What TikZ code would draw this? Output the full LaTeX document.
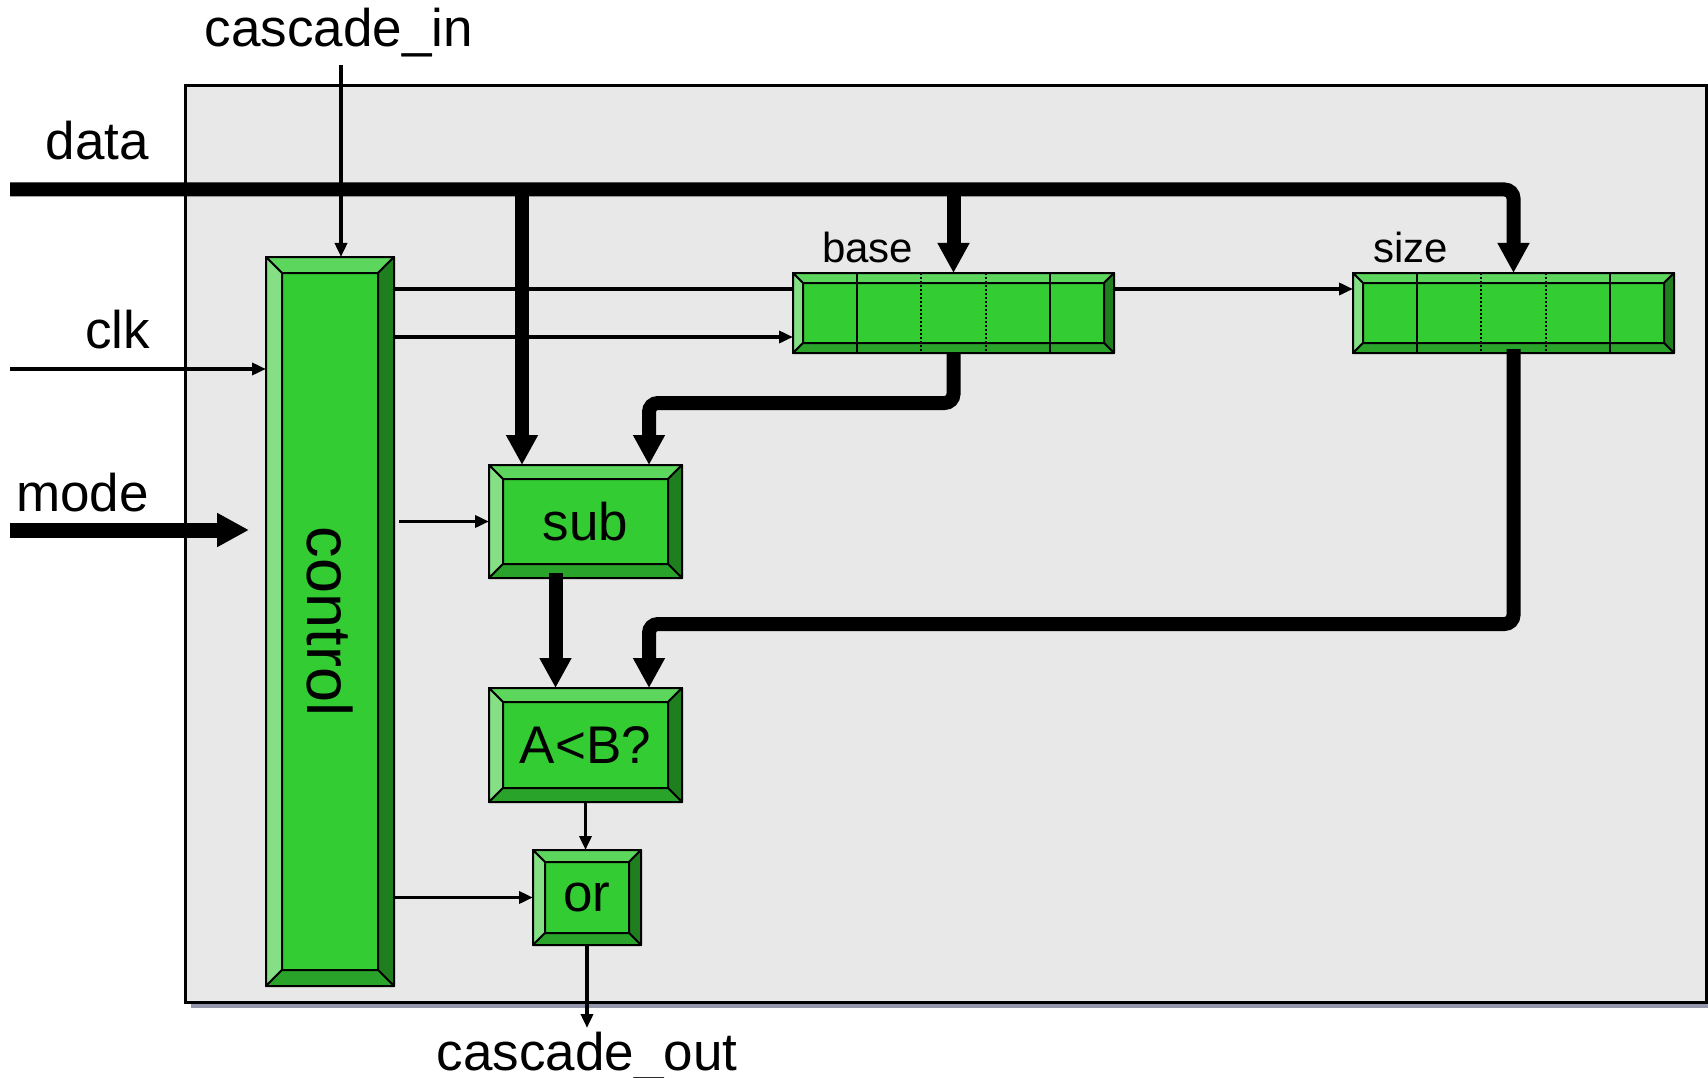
\documentclass[tikz,border=0pt]{standalone}
\usepackage{fontspec}
\setmainfont{Liberation Sans}
\usetikzlibrary{arrows.meta,calc,backgrounds}

\definecolor{gmid}{HTML}{33CC33}
\definecolor{gtop}{HTML}{5CD65C}
\definecolor{gleft}{HTML}{85E085}
\definecolor{gright}{HTML}{1F7F1F}
\definecolor{gbot}{HTML}{29A329}
\definecolor{panel}{HTML}{E8E8E8}
\definecolor{shadowgray}{HTML}{9497AB}

\newcommand{\bevelbox}[2]{%
    \filldraw[bev, fill=gtop] (#1.north west) -- (#1.north east) -- ([shift={(-#2,#2)}]#1.north east) -- ([shift={(#2,#2)}]#1.north west) -- cycle;
    \filldraw[bev, fill=gleft] (#1.north west) -- ([shift={(#2,#2)}]#1.north west) -- ([shift={(#2,-#2)}]#1.south west) -- (#1.south west) -- cycle;
    \filldraw[bev, fill=gright] (#1.north east) -- ([shift={(-#2,#2)}]#1.north east) -- ([shift={(-#2,-#2)}]#1.south east) -- (#1.south east) -- cycle;
    \filldraw[bev, fill=gbot] (#1.south west) -- ([shift={(#2,-#2)}]#1.south west) -- ([shift={(-#2,-#2)}]#1.south east) -- (#1.south east) -- cycle;
    \draw[line width=2.5pt] (#1.north west) rectangle (#1.south east);
}

\begin{document}
\begin{tikzpicture}[
        x=1pt, y=-1pt,
        blk/.style={
            draw=black,
            line width=2.5pt,
            fill=gmid,
            inner sep=0pt,
            outer sep=0pt,
            font=\fontsize{53}{60}\selectfont
        },
        reg/.style={blk, minimum width=321pt, minimum height=80pt},
        bev/.style={draw=black, line width=2pt, line join=round},
        lbl/.style={inner sep=0pt, font=\fontsize{53}{60}\selectfont},
        small/.style={inner sep=0pt, font=\fontsize{42}{48}\selectfont},
        bus/.style={line width=14pt, rounded corners=9pt, -{Triangle[length=30pt,width=30pt]}},
        fat/.style={line width=15pt, -{Triangle[length=32pt,width=32pt]}},
        wire/.style={line width=3.5pt, -{Triangle[length=14pt,width=12pt]}},
        divider/.style={line width=2pt},
        dotdiv/.style={line width=2pt, dash pattern=on 2pt off 2pt}
    ]
    \useasboundingbox (0,0) rectangle (1708,1078);
    \begin{scope}[on background layer]
        \fill[shadowgray] (191,91) rectangle (1713,1008);
        \draw[line width=3pt, fill=panel] (185,86) rectangle (1706,1002);
    \end{scope}

    \node[blk, minimum width=128pt, minimum height=729pt, font=\fontsize{63}{70}\selectfont] (ctrl) at (330,621.5) {\rotatebox{-90}{control}};
    \node[reg] (base) at (953.5,313) {};
    \node[reg] (size) at (1513.5,313) {};
    \node[blk, minimum width=193pt, minimum height=113pt] (sub) at (585.5,521.5) {sub};
    \node[blk, minimum width=193pt, minimum height=114pt] (cmp) at (585.5,745) {A<B?};
    \node[blk, minimum width=108pt, minimum height=95pt] (orgate) at (587,897.5) {or};

    \foreach \n/\d in {ctrl/16, base/10, size/10, sub/14, cmp/14, orgate/12} {\bevelbox{\n}{\d}}
    \foreach \r in {base,size}
        \foreach \f/\s in {0.2/divider, 0.4/dotdiv, 0.6/dotdiv, 0.8/divider}
            \draw[\s] ($(\r.north west)!\f!(\r.north east)$) -- ($(\r.south west)!\f!(\r.south east)$);

    \node[lbl, anchor=base] (casinlbl) at (339,47) {cascade\_in};
    \node[lbl, anchor=base east] (datalbl) at (149,160) {data};
    \node[lbl, anchor=base east] (clklbl) at (150,348) {clk};
    \node[lbl, anchor=base east] (modelbl) at (149,511) {mode};
    \node[small, anchor=base west] (baselbl) at (822,262) {base};
    \node[small, anchor=base west] (sizelbl) at (1373,262) {size};
    \node[lbl, anchor=base] (casoutlbl) at (587,1070) {cascade\_out};

    \coordinate (datain) at (10,189.5);
    \coordinate (clkin) at (10,369);
    \coordinate (modein) at (10,530);
    \coordinate (modeend) at (249,530);
    \coordinate (casin) at (341,65);
    \coordinate (subA) at ([xshift=-63.5pt]sub.north);
    \coordinate (subB) at ([xshift=63.5pt]sub.north);
    \coordinate (subC) at ([xshift=-30pt,yshift=5pt]sub.south);
    \coordinate (cmpB) at ([xshift=63.5pt]cmp.north);
    \coordinate (szin) at ([yshift=24pt]size.west);
    \coordinate (basein) at ([yshift=-24pt]base.west);

    \begin{scope}[on background layer]
        \draw[wire] (ctrl.east |- szin) -- (szin);
    \end{scope}

    \draw[bus] (datain) -| (size.north);
    \draw[bus] (datain -| base.north) -- (base.north);
    \draw[bus] (datain -| subA) -- (subA);
    \draw[bus] (base.south) -- ++(0,50) -| (subB);
    \draw[bus] ([yshift=4pt]size.south) -- ++(0,275) -| (cmpB);
    \draw[bus] (subC) -- (subC |- cmp.north);

    \draw[wire] (casin) -- (casin |- ctrl.north);
    \draw[wire] (clkin) -- (clkin -| ctrl.west);
    \draw[fat] (modein) -- (modeend);
    \draw[wire] (ctrl.east |- basein) -- (basein);
    \draw[wire, shorten <=5pt] (ctrl.east |- sub.west) -- (sub.west);
    \draw[wire] (ctrl.east |- orgate.west) -- (orgate.west);
    \draw[wire] (cmp.south) -- (cmp.south |- orgate.north);
    \draw[wire] (orgate.south) -- ++(0,83);
\end{tikzpicture}
\end{document}
